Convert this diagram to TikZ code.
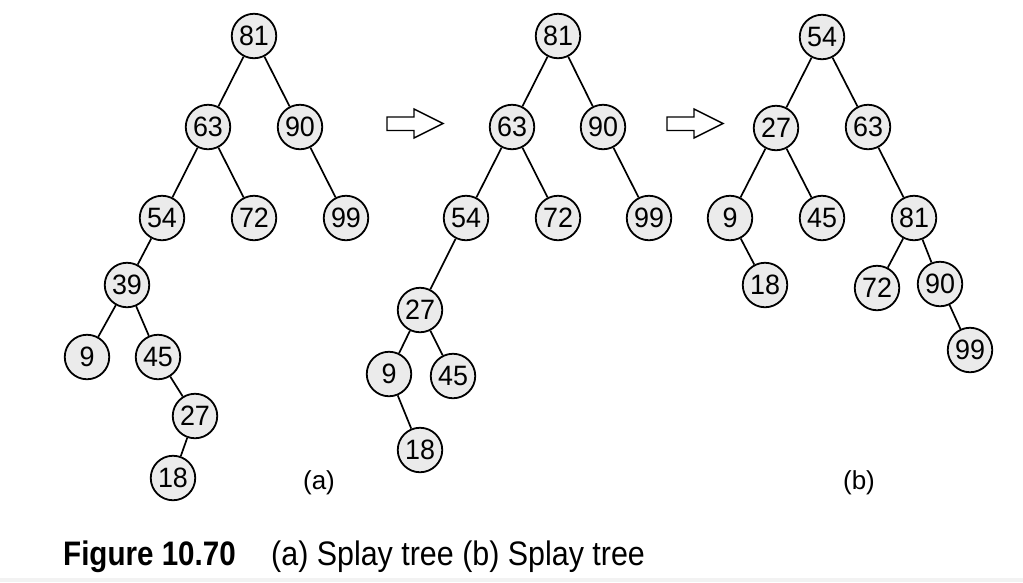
\documentclass[tikz,border=0pt]{standalone}
\usepackage{fontspec}
\setmainfont{Liberation Sans}
\newfontfamily\nodefont[FakeStretch=0.96]{Liberation Sans}
\newfontfamily\capboldfont[FakeStretch=0.87]{Liberation Sans Bold}
\newfontfamily\capfont[FakeStretch=0.895]{Liberation Sans}
\definecolor{nodefill}{RGB}{235,235,235}
\definecolor{bandgray}{RGB}{242,242,242}
\begin{document}
\begin{tikzpicture}[x=1pt,y=-1pt,
  tnode/.style={circle,draw=black,fill=nodefill,line width=1.8pt,minimum size=44.5pt,inner sep=0pt,font=\nodefont\fontsize{28}{32}\selectfont},
  edge/.style={line width=1.7pt},
  bigarrow/.style={draw=black,line width=1.4pt,fill=white,line join=miter},
  sublabel/.style={font=\fontsize{26}{30}\selectfont},
  ]
\useasboundingbox (0,0) rectangle (1023,582);
\fill[bandgray] (0,578) rectangle (1023,582);
% Tree (a)
\node[tnode] (a81) at (254,36) {81};
\node[tnode] (a63) at (208,127) {63};
\node[tnode] (a90) at (300,127) {90};
\node[tnode] (a54) at (162,218) {54};
\node[tnode] (a72) at (254,218) {72};
\node[tnode] (a99) at (346,218) {99};
\node[tnode] (a39) at (127,285) {39};
\node[tnode] (a9)  at (87,357) {9};
\node[tnode] (a45) at (158,357) {45};
\node[tnode] (a27) at (195,416) {27};
\node[tnode] (a18) at (173,478) {18};
\draw[edge] (a81) -- (a63);
\draw[edge] (a81) -- (a90);
\draw[edge] (a63) -- (a54);
\draw[edge] (a63) -- (a72);
\draw[edge] (a90) -- (a99);
\draw[edge] (a54) -- (a39);
\draw[edge] (a39) -- (a9);
\draw[edge] (a39) -- (a45);
\draw[edge] (a45) -- (a27);
\draw[edge] (a27) -- (a18);
% Tree middle
\node[tnode] (b81) at (558,36) {81};
\node[tnode] (b63) at (512,127) {63};
\node[tnode] (b90) at (603,127) {90};
\node[tnode] (b54) at (466,218) {54};
\node[tnode] (b72) at (558,218) {72};
\node[tnode] (b99) at (649,218) {99};
\node[tnode] (b27) at (420,310) {27};
\node[tnode] (b9)  at (389,374) {9};
\node[tnode] (b45) at (453,376) {45};
\node[tnode] (b18) at (420,450) {18};
\draw[edge] (b81) -- (b63);
\draw[edge] (b81) -- (b90);
\draw[edge] (b63) -- (b54);
\draw[edge] (b63) -- (b72);
\draw[edge] (b90) -- (b99);
\draw[edge] (b54) -- (b27);
\draw[edge] (b27) -- (b9);
\draw[edge] (b27) -- (b45);
\draw[edge] (b9) -- (b18);
% Tree (b)
\node[tnode] (c54) at (822,37) {54};
\node[tnode] (c27) at (776,128) {27};
\node[tnode] (c63) at (868,127) {63};
\node[tnode] (c9)  at (730,218) {9};
\node[tnode] (c45) at (822,218) {45};
\node[tnode] (c81) at (914,218) {81};
\node[tnode] (c18) at (765,285) {18};
\node[tnode] (c72) at (877,288) {72};
\node[tnode] (c90) at (940,284) {90};
\node[tnode] (c99) at (970,350) {99};
\draw[edge] (c54) -- (c27);
\draw[edge] (c54) -- (c63);
\draw[edge] (c27) -- (c9);
\draw[edge] (c27) -- (c45);
\draw[edge] (c63) -- (c81);
\draw[edge] (c9) -- (c18);
\draw[edge] (c81) -- (c72);
\draw[edge] (c81) -- (c90);
\draw[edge] (c90) -- (c99);
% Block arrows
\draw[bigarrow] (387,117) -- (414,117) -- (414,109) -- (443,123.5) -- (414,138) -- (414,130.5) -- (387,130.5) -- cycle;
\draw[bigarrow] (667,117) -- (694,117) -- (694,109) -- (723,123.5) -- (694,138) -- (694,130.5) -- (667,130.5) -- cycle;
% Sub labels
\node[sublabel] (la) at (319,483) {(a)};
\node[sublabel] (lb) at (859,483) {(b)};
% Caption
\node[anchor=base west,inner sep=0pt,font=\capboldfont\fontsize{34}{36}\selectfont] (fig) at (63,565) {Figure 10.70};
\node[anchor=base west,inner sep=0pt,font=\capfont\fontsize{34}{36}\selectfont] (cap) at (271,565) {(a) Splay tree (b) Splay tree};
\end{tikzpicture}
\end{document}
